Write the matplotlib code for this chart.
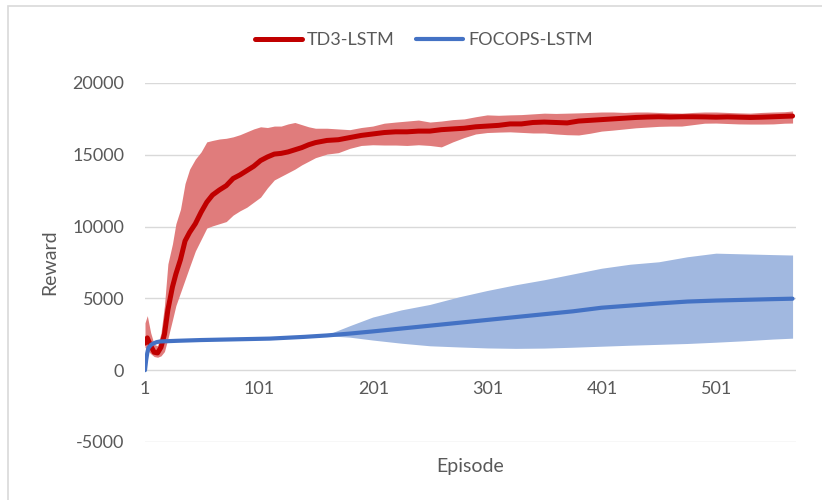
import numpy as np
import matplotlib.pyplot as plt
from matplotlib.patches import Rectangle

plt.rcParams['font.family'] = ['Lato', 'DejaVu Sans']
plt.rcParams['axes.unicode_minus'] = False

# TD3-LSTM: mean reward and band edges per episode
td3_ep = [1, 3, 6, 9, 12, 15, 18, 21, 25, 28, 32, 36, 40, 45, 50, 55, 60, 66, 72, 78,
          84, 90, 96, 102, 108, 114, 120, 126, 132, 138, 144, 150, 160, 170, 180, 190,
          200, 210, 220, 230, 240, 250, 260, 270, 280, 290, 300, 310, 320, 330, 340,
          350, 360, 370, 380, 390, 400, 410, 420, 430, 440, 450, 460, 470, 480, 490,
          500, 510, 520, 530, 540, 550, 560, 567]
td3_mean = [1880, 2250, 1700, 1250, 1200, 1600, 2500, 4200, 5800, 6700, 7700, 9000, 9600,
            10200, 11000, 11700, 12200, 12550, 12850, 13350, 13600, 13900, 14200, 14600,
            14850, 15050, 15100, 15200, 15350, 15500, 15700, 15850, 16000, 16050, 16200,
            16350, 16450, 16550, 16600, 16600, 16650, 16650, 16750, 16800, 16850, 16950,
            17000, 17050, 17150, 17150, 17250, 17280, 17250, 17220, 17350, 17400, 17450,
            17500, 17550, 17600, 17630, 17650, 17630, 17650, 17650, 17640, 17620, 17640,
            17620, 17600, 17620, 17650, 17680, 17700]
td3_hi = [3300, 3800, 2600, 1800, 1700, 2600, 4500, 7400, 8800, 10200, 11200, 13000, 14000,
          14700, 15200, 15900, 16000, 16100, 16150, 16250, 16400, 16600, 16800, 16950,
          16900, 17000, 17000, 17150, 17250, 17100, 16950, 16850, 16850, 16800, 16750,
          16900, 17000, 17200, 17280, 17350, 17420, 17280, 17350, 17450, 17500, 17650,
          17780, 17750, 17780, 17800, 17850, 17900, 17880, 17900, 17920, 17950, 17980,
          17980, 17950, 17980, 17980, 17950, 17920, 17900, 17950, 17980, 17980, 17950,
          17920, 17900, 17950, 17980, 18000, 18050]
td3_lo = [1600, 1400, 1150, 950, 900, 1000, 1300, 2200, 3500, 4500, 5400, 6300, 7200, 8300,
          9100, 9900, 10050, 10200, 10350, 10800, 11100, 11350, 11700, 12050, 12700, 13250,
          13500, 13750, 14000, 14300, 14550, 14800, 15050, 15150, 15450, 15650, 15700,
          15680, 15680, 15650, 15700, 15650, 15550, 15900, 16200, 16450, 16550, 16580,
          16600, 16560, 16520, 16520, 16450, 16400, 16380, 16500, 16650, 16720, 16800,
          16880, 16930, 16980, 17000, 17000, 17100, 17200, 17210, 17180, 17150, 17140,
          17140, 17150, 17200, 17210]

# FOCOPS-LSTM
focops_ep = [1, 2, 3, 4, 6, 8, 11, 14, 20, 30, 50, 80, 110, 140, 160, 180, 200, 225, 250,
             275, 300, 325, 350, 375, 400, 425, 450, 475, 500, 525, 550, 567]
focops_mean = [0, 700, 1200, 1550, 1750, 1850, 1950, 2000, 2020, 2050, 2100, 2150, 2200,
               2320, 2420, 2550, 2700, 2900, 3100, 3300, 3500, 3700, 3900, 4100, 4350,
               4500, 4650, 4780, 4850, 4900, 4950, 4980]
focops_hi = [0, 700, 1200, 1550, 1750, 1850, 1950, 2000, 2020, 2050, 2100, 2150, 2200,
             2320, 2470, 3100, 3700, 4200, 4580, 5100, 5550, 5950, 6300, 6700, 7100, 7380,
             7550, 7900, 8150, 8100, 8050, 8020]
focops_lo = [0, 700, 1200, 1550, 1750, 1850, 1950, 2000, 2020, 2050, 2100, 2150, 2200,
             2320, 2400, 2300, 2100, 1880, 1700, 1620, 1550, 1520, 1540, 1600, 1670, 1740,
             1800, 1860, 1950, 2050, 2170, 2230]

x_ticks = [1, 101, 201, 301, 401, 501]
y_ticks = [-5000, 0, 5000, 10000, 15000, 20000]

txt = '#595959'
fig = plt.figure(figsize=(8.22, 5.0), dpi=100)
ax = fig.add_axes([145 / 822, 58 / 500, 651 / 822, 359 / 500])

# chart border
fig.patches.append(Rectangle((8 / 822, -0.1), 1.2, 1.1 - 6 / 500, transform=fig.transFigure,
                             fill=False, edgecolor='#D9D9D9', linewidth=1.2))

ax.fill_between(td3_ep, td3_lo, td3_hi, color='#E07C7C', linewidth=0, zorder=1)
ax.fill_between(focops_ep, focops_lo, focops_hi, color='#A1B8E0', linewidth=0, zorder=1)
l1, = ax.plot(td3_ep, td3_mean, color='#C00000', lw=3.6, solid_capstyle='round', zorder=3,
              label='TD3-LSTM')
l2, = ax.plot(focops_ep, focops_mean, color='#4472C4', lw=3.0, solid_capstyle='round', zorder=4,
              label='FOCOPS-LSTM')

ax.set_xlim(1, 570)
ax.set_ylim(-5000, 20000)
ax.set_xticks(x_ticks)
ax.set_yticks(y_ticks)
ax.tick_params(length=0, labelsize=13, colors=txt)
ax.tick_params(axis='y', pad=15)
ax.spines[:].set_visible(False)
ax.grid(axis='y', color='#D9D9D9', lw=1.0)
ax.set_axisbelow(True)

# x tick labels sit just below the zero line
ax.set_xticklabels([])
for t in x_ticks:
    ax.text(t, -1300, str(t), ha='center', va='center', fontsize=13, color=txt)

ax.set_xlabel('Episode', fontsize=14, color=txt, labelpad=8)
ax.set_ylabel('Reward', fontsize=14, color=txt, labelpad=10)

fig.legend(handles=[l1, l2], loc='center', bbox_to_anchor=(424 / 822, 1 - 40 / 500), ncol=2,
           frameon=False, fontsize=13, labelcolor=txt, handlelength=2.6, columnspacing=1.2,
           handletextpad=0.3)

fig.savefig('out.png', dpi=100)
